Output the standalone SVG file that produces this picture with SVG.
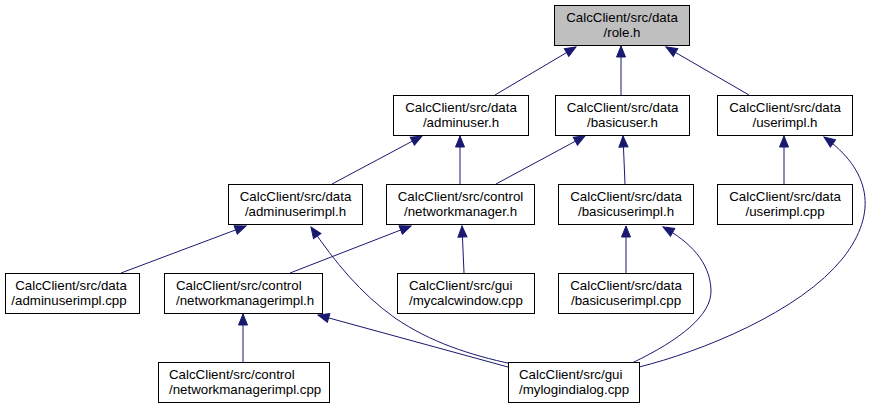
<svg xmlns="http://www.w3.org/2000/svg" width="875" height="409" viewBox="0 0 875 409">
<style>
.n rect{fill:#fff;stroke:#000;stroke-width:1}
.n.root rect{fill:#bfbfbf}
.n text{font-family:"Liberation Sans",Arial,Helvetica,sans-serif;font-size:13.3px;fill:#000;text-anchor:middle}
.n text.l{text-anchor:start}
.e path{fill:none;stroke:#191970;stroke-width:1;marker-end:url(#ah)}
</style>
<defs>
<marker id="ah" markerUnits="userSpaceOnUse" markerWidth="13" markerHeight="11" refX="11" refY="4.5" orient="auto" viewBox="-1 -1 13 11">
<path d="M0,0 L11,4.5 L0,9 z" fill="#191970" stroke="#191970" stroke-width="1"/>
</marker>
</defs>
<rect width="875" height="409" fill="#fff"/>
<g id="edges" class="e">
<path d="M495,95 L576,47"/>
<path d="M621,95 L621,46"/>
<path d="M749,95 L666,47"/>
<path d="M332,184 L422,136"/>
<path d="M460,184 L460,136"/>
<path d="M496,184 L585,136"/>
<path d="M625,184 L623,136"/>
<path d="M784,184 L784,136"/>
<path d="M639,367 C700,352 800,312 843,258 C879,212 870,170 824,137"/>
<path d="M121,273 L246,226"/>
<path d="M512,364 C470,355 430,342 395,318 C360,293 335,262 311,227"/>
<path d="M290,273 L411,226"/>
<path d="M464,273 L462,226"/>
<path d="M626,273 L626,226"/>
<path d="M632,363 C680,340 712,315 711,290 C710,262 690,242 663,227"/>
<path d="M243,362 L243,314"/>
<path d="M508,367 L318,315"/>
</g>
<g id="role_h" class="n root"><rect x="554.5" y="5.5" width="135" height="40"/><text x="622" y="21.5">CalcClient/src/data</text><text x="622" y="36.5">/role.h</text></g>
<g id="adminuser_h" class="n"><rect x="393.5" y="95.5" width="135" height="40"/><text x="461" y="111.5">CalcClient/src/data</text><text x="461" y="126.5">/adminuser.h</text></g>
<g id="basicuser_h" class="n"><rect x="555.5" y="95.5" width="134" height="40"/><text x="622.5" y="111.5">CalcClient/src/data</text><text x="622.5" y="126.5">/basicuser.h</text></g>
<g id="userimpl_h" class="n"><rect x="717.5" y="95.5" width="135" height="40"/><text x="785" y="111.5">CalcClient/src/data</text><text x="785" y="126.5">/userimpl.h</text></g>
<g id="adminuserimpl_h" class="n"><rect x="228.5" y="184.5" width="134" height="40"/><text x="295.5" y="200.5">CalcClient/src/data</text><text x="295.5" y="215.5">/adminuserimpl.h</text></g>
<g id="networkmanager_h" class="n"><rect x="386.5" y="184.5" width="148" height="40"/><text x="460.5" y="200.5">CalcClient/src/control</text><text x="460.5" y="215.5">/networkmanager.h</text></g>
<g id="basicuserimpl_h" class="n"><rect x="558.5" y="184.5" width="135" height="40"/><text x="626" y="200.5">CalcClient/src/data</text><text x="626" y="215.5">/basicuserimpl.h</text></g>
<g id="userimpl_cpp" class="n"><rect x="717.5" y="184.5" width="135" height="40"/><text x="785" y="200.5">CalcClient/src/data</text><text x="785" y="215.5">/userimpl.cpp</text></g>
<g id="adminuserimpl_cpp" class="n"><rect x="5.5" y="273.5" width="134" height="40"/><text x="71" y="289.5">CalcClient/src/data</text><text x="69" y="304.5">/adminuserimpl.cpp</text></g>
<g id="networkmanagerimpl_h" class="n"><rect x="164.5" y="273.5" width="158" height="40"/><text class="l" x="176" y="289.5">CalcClient/src/control</text><text class="l" x="176" y="304.5">/networkmanagerimpl.h</text></g>
<g id="mycalcwindow_cpp" class="n"><rect x="397.5" y="273.5" width="137" height="40"/><text class="l" x="409" y="289.5">CalcClient/src/gui</text><text class="l" x="409" y="304.5">/mycalcwindow.cpp</text></g>
<g id="basicuserimpl_cpp" class="n"><rect x="558.5" y="273.5" width="135" height="40"/><text x="626" y="289.5">CalcClient/src/data</text><text x="626" y="304.5">/basicuserimpl.cpp</text></g>
<g id="networkmanagerimpl_cpp" class="n"><rect x="158.5" y="362.5" width="171" height="40"/><text class="l" x="169" y="378.5">CalcClient/src/control</text><text class="l" x="169" y="393.5">/networkmanagerimpl.cpp</text></g>
<g id="mylogindialog_cpp" class="n"><rect x="508.5" y="362.5" width="131" height="40"/><text class="l" x="519" y="378.5">CalcClient/src/gui</text><text class="l" x="519" y="393.5">/mylogindialog.cpp</text></g>
</svg>
